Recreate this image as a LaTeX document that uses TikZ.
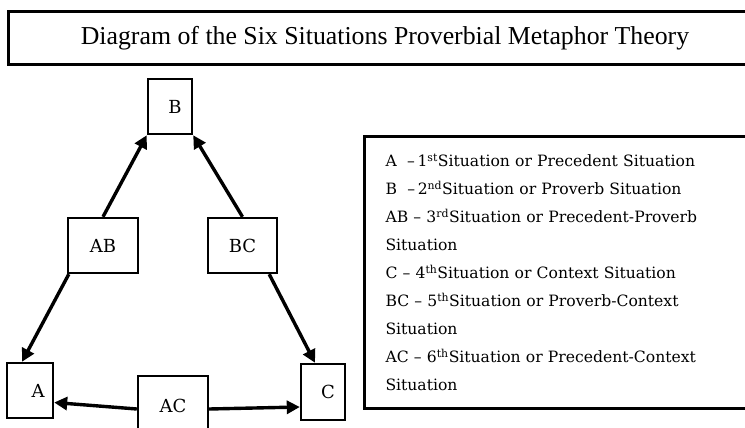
\documentclass[tikz,border=0pt]{standalone}
\usepackage{fontspec}
\setmainfont{DejaVu Serif}
\newfontfamily\titlefont{Liberation Serif}
\usetikzlibrary{arrows.meta}
\definecolor{ink}{HTML}{000000}
\tikzset{
  box/.style={draw=ink, line width=2.4pt, inner sep=0pt, font=\fontsize{18}{20}\selectfont},
  link/.style={draw=ink, line width=3.4pt, -{Triangle[length=13pt,width=13pt]}},
  frame/.style={draw=ink, line width=3pt},
  keytext/.style={font=\fontsize{15.6}{28}\selectfont, align=left}
}

\begin{document}
\begin{tikzpicture}[x=1pt,y=-1pt]
  \useasboundingbox (0,0) rectangle (745,428);
  % title
  \node[frame, minimum width=754pt, minimum height=53pt,
        font=\titlefont\fontsize{25.8}{28}\selectfont] (title) at (385,38.5)
        {Diagram of the Six Situations Proverbial Metaphor Theory};
  % situations
  \node[box, minimum width=44pt, minimum height=55pt] (B)  at (170,106.5) {\hspace*{10pt}B};
  \node[box, minimum width=70pt, minimum height=55pt] (AB) at (103,245.5) {AB};
  \node[box, minimum width=69pt, minimum height=55pt] (BC) at (242.5,245.5) {BC};
  \node[box, minimum width=46pt, minimum height=55pt] (A)  at (30,390.5) {\hspace*{16pt}A};
  \node[box, minimum width=44pt, minimum height=56pt] (C)  at (323,392) {\hspace*{10pt}C};
  \node[box, minimum width=70pt, minimum height=60pt] (AC) at (173,406) {AC};
  % arrows
  \draw[link] (AB.north) -- (B.south west);
  \draw[link] (BC.north) -- (B.south east);
  \draw[link] ([xshift=2pt]AB.south west) -- ([xshift=-8pt]A.north);
  \draw[link] ([xshift=-9pt]BC.south east) -- ([xshift=-8pt]C.north);
  \draw[link] ([yshift=-3pt]AC.west) -- ([yshift=-12pt]A.east);
  \draw[link] ([yshift=-3pt]AC.east) -- ([yshift=-15pt]C.west);
  % key
  \node[frame, keytext, anchor=north west, minimum height=272pt,
        text width=380pt, inner xsep=21pt] (key) at (363,135)
  {A \ --\,1\textsuperscript{st}Situation or Precedent Situation\\
   B \ --\,2\textsuperscript{nd}Situation or Proverb Situation\\
   AB -- 3\textsuperscript{rd}Situation or Precedent-Proverb\\
   Situation\\
   C -- 4\textsuperscript{th}Situation or Context Situation\\
   BC -- 5\textsuperscript{th}Situation or Proverb-Context\\
   Situation\\
   AC -- 6\textsuperscript{th}Situation or Precedent-Context\\
   Situation};
\end{tikzpicture}
\end{document}
